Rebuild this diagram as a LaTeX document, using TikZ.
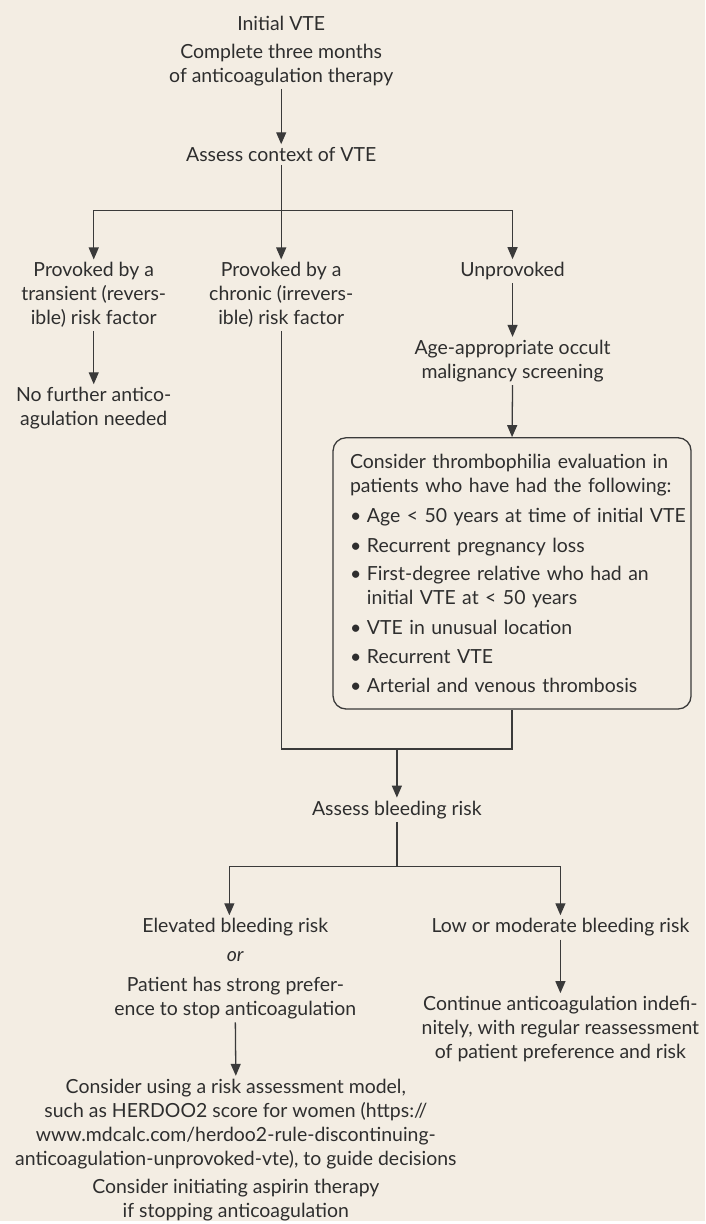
\documentclass[tikz,border=0pt]{standalone}
\usepackage{fontspec}
\setmainfont{Lato}
\usetikzlibrary{arrows,arrows.meta,positioning,calc}
\definecolor{paper}{HTML}{F3EDE3}
\definecolor{ink}{HTML}{2E2E2E}
\definecolor{wire}{HTML}{3A3A3A}
\begin{document}
\begin{tikzpicture}[x=1pt,y=-1pt,
  every node/.style={font=\fontsize{19.5}{24}\selectfont,text=ink,align=center,inner sep=3pt},
  arr/.style={draw=wire,line width=1.3pt,arrows=-{Triangle[length=12pt,width=10pt]}},
  ln/.style={draw=wire,line width=1.3pt}]
\fill[paper] (0,0) rectangle (707,1224);
\node (init) at (282,23) {Initial VTE};
\node (compl) at (282,65) {Complete three months\\of anticoagulation therapy};
\node (ctx) at (282,155) {Assess context of VTE};
\node (trans) at (94,296) {Provoked by a\\transient (revers-\\ible) risk factor};
\node (chron) at (282,296) {Provoked by a\\chronic (irrevers-\\ible) risk factor};
\node (unprov) at (514,272) {Unprovoked};
\node (nofurther) at (94,409.5) {No further antico-\\agulation needed};
\node (screen) at (514,362) {Age-appropriate occult\\malignancy screening};
\node[draw=wire,line width=1.3pt,rounded corners=13pt,minimum width=359pt,minimum height=272pt,
  align=left,text width=325pt] (thromb) at (513.5,575)
  {Consider thrombophilia evaluation in\\patients who have had the following:\\[6pt]
   \mbox{\makebox[17pt][l]{•}Age < 50 years at time of initial VTE}\\[6pt]
   \makebox[17pt][l]{•}Recurrent pregnancy loss\\[5pt]
   \makebox[17pt][l]{•}First-degree relative who had an\\
   \hspace*{17pt}initial VTE at < 50 years\\[6pt]
   \makebox[17pt][l]{•}VTE in unusual location\\[5pt]
   \makebox[17pt][l]{•}Recurrent VTE\\[5pt]
   \makebox[17pt][l]{•}Arterial and venous thrombosis};
\node (bleed) at (398,812) {Assess bleeding risk};
\node (elev) at (236,971.5) {Elevated bleeding risk\\[5pt]\textit{or}\\[6pt]Patient has strong prefer-\\ence to stop anticoagulation};
\node (low) at (562,930) {Low or moderate bleeding risk};
\node (cont) at (562,1032) {Continue anticoagulation indefi-\\nitely, with regular reassessment\\of patient preference and risk};
\node (herdoo) at (236.5,1127) {Consider using a risk assessment model,\\such as HERDOO2 score for women (https://\\www.mdcalc.com/herdoo2-rule-discontinuing-\\anticoagulation-unprovoked-vte), to guide decisions};
\node (aspirin) at (236.5,1203.5) {Consider initiating aspirin therapy\\if stopping anticoagulation};
\coordinate (split) at (282,211);
\coordinate (merge) at (398,751);
\coordinate (fork) at (398,869);
\foreach \a/\b in {compl/ctx,ctx/chron,trans/nofurther,unprov/screen,screen/thromb,elev/herdoo,low/cont}
  \draw[arr] (\a.south) -- (\b.north);
\draw[arr] (split) -| (trans.north);
\draw[arr] (split) -| (unprov.north);
\draw[ln] (chron.south) |- (merge) -| (thromb.south);
\draw[arr] (merge) -- (bleed.north);
\draw[ln] (bleed.south) -- (fork);
\draw[arr] (fork) -| ([xshift=-6pt]elev.north);
\draw[arr] (fork) -| (low.north);
\end{tikzpicture}
\end{document}
